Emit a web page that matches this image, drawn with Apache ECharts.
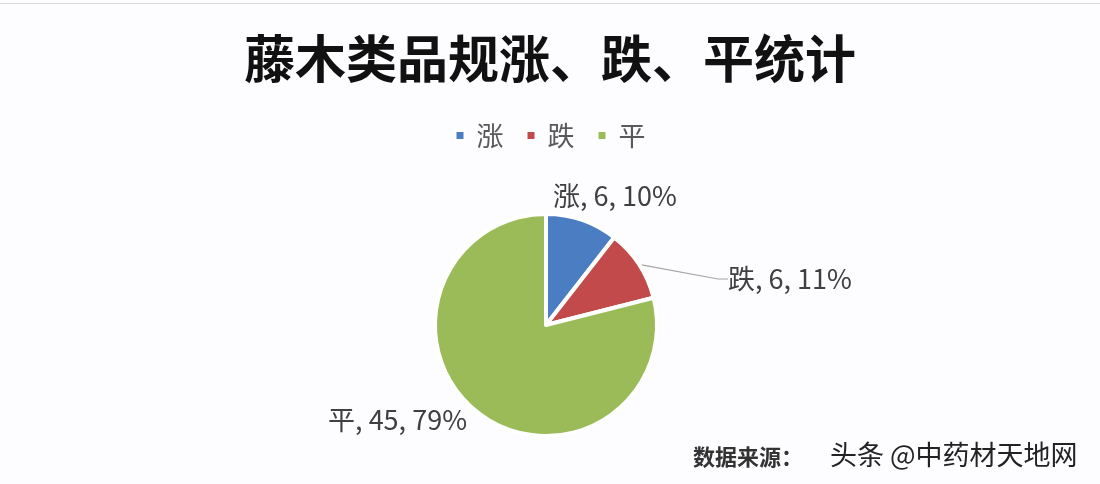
<!DOCTYPE html>
<html>
<head>
<meta charset="utf-8">
<script src="https://cdn.jsdelivr.net/npm/echarts@6/dist/echarts.min.js"></script>
<style>
html,body{margin:0;padding:0;background:#fdfcfe;}
#main{width:1100px;height:484px;}
</style>
</head>
<body>
<div id="main"></div>
<script>
var categories = ['涨', '跌', '平'];
var values = [6, 6, 45];
var percentLabels = [10, 11, 79];
var colors = ['#4a7dc1', '#c24a4b', '#9bbb59'];

var chart = echarts.init(document.getElementById('main'));
var font = '"Noto Sans CJK SC", "Noto Sans", sans-serif';

var labelPos = [
  {x: 553, y: 196, align: 'left'},
  {x: 728, y: 279, align: 'left'},
  {x: 467, y: 420, align: 'right'}
];

chart.setOption({
  backgroundColor: '#fdfcfe',
  animation: false,
  title: {
    text: '藤木类品规涨、跌、平统计',
    left: 'center',
    top: 28,
    textStyle: {fontFamily: font, fontSize: 51, fontWeight: 'bold', color: '#111'}
  },
  legend: {
    top: 117,
    left: 'center',
    icon: 'rect',
    itemWidth: 9,
    itemHeight: 9,
    itemGap: 22,
    data: categories,
    textStyle: {fontFamily: font, fontSize: 27, color: '#595959', padding: [0, 0, 0, 7]}
  },
  color: colors,
  graphic: [
    {type: 'rect', shape: {x: 0, y: 3, width: 1100, height: 1}, style: {fill: '#d8d8d8'}},
    {type: 'text', left: 693, top: 446, style: {text: '数据来源：', font: 'bold 22px ' + font, fill: '#333'}},
    {type: 'text', left: 830, top: 441, style: {text: '头条 @中药材天地网', font: '27px ' + font, fill: '#222'}}
  ],
  series: [{
    type: 'pie',
    center: [546, 325],
    radius: 111,
    startAngle: 90,
    clockwise: true,
    itemStyle: {borderColor: '#ffffff', borderWidth: 4},
    label: {
      show: true,
      position: 'outside',
      fontFamily: font,
      fontSize: 27,
      color: '#404040',
      formatter: function (p) {
        return p.name + ', ' + p.value + ', ' + percentLabels[p.dataIndex] + '%';
      }
    },
    labelLine: {show: false, lineStyle: {color: '#a5a5a5', width: 1.2}},
    labelLayout: function (params) {
      var lp = labelPos[params.dataIndex];
      return {x: lp.x, y: lp.y, align: lp.align, verticalAlign: 'middle'};
    },
    data: categories.map(function (c, i) {
      var d = {name: c, value: values[i]};
      if (i === 1) d.labelLine = {show: true, length: 20, length2: 10};
      return d;
    })
  }]
});
</script>
</body>
</html>
